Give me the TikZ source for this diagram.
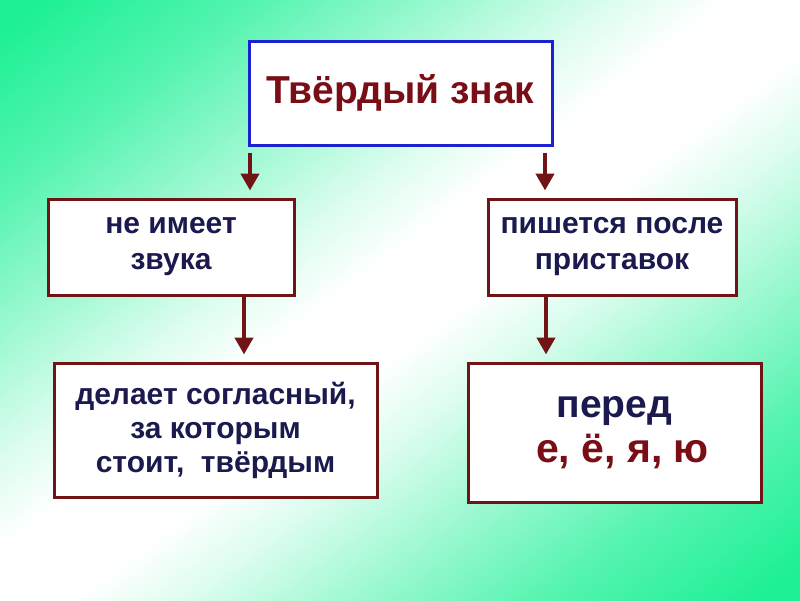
\documentclass[tikz,border=0pt]{standalone}
\usepackage{fontspec}
\setmainfont{Liberation Sans}
\usetikzlibrary{positioning, arrows.meta}

\definecolor{bggreen}{RGB}{30,240,150}
\definecolor{topblue}{RGB}{28,34,205}
\definecolor{boxred}{RGB}{112,20,22}
\definecolor{textnavy}{RGB}{26,26,78}
\definecolor{textred}{RGB}{122,14,22}
\pgfdeclareverticalshading{bgfade}{100bp}{color(0bp)=(bggreen); color(17bp)=(bggreen);
    color(26bp)=(bggreen!76!white); color(35bp)=(bggreen!42!white); color(42bp)=(bggreen!15!white);
    color(47bp)=(white); color(53bp)=(white);
    color(58bp)=(bggreen!15!white); color(65bp)=(bggreen!42!white); color(74bp)=(bggreen!76!white);
    color(83bp)=(bggreen); color(100bp)=(bggreen)}

\begin{document}
\begin{tikzpicture}[x=1pt, y=1pt, on grid,
    box/.style={draw=boxred, line width=3pt, fill=white, align=center, inner sep=0pt,
        text=textnavy, font=\bfseries\fontsize{30}{36}\selectfont},
    arr/.style={draw=boxred, line width=4.5pt, -{Triangle[length=17pt, width=18pt]}}]
    % background
    \fill[shading=bgfade, shading angle=37] (0,0) rectangle (800,-600);
    \node[box, draw=topblue, minimum width=303pt, minimum height=104pt, text=textred,
        font=\bfseries\fontsize{39}{44}\selectfont] (zn) at (400.5,-93) {Твёрдый знак};
    \node[box, minimum width=246pt, minimum height=96pt] (l_1) [below left=154pt and 229.5pt of zn]
        {не имеет\\звука};
    \node[box, minimum width=248pt, minimum height=96pt] (r_1) [below right=154pt and 211.5pt of zn]
        {пишется после\\приставок};
    \node[box, minimum width=323pt, minimum height=134pt, font=\bfseries\fontsize{30}{34}\selectfont]
        (l_2) [below right=183pt and 44.5pt of l_1] {делает согласный,\\за которым\\стоит,\ \ твёрдым};
    \node[box, minimum width=293pt, minimum height=139pt, font=\bfseries\fontsize{39}{45}\selectfont]
        (r_2) [below right=185.5pt and 2.5pt of r_1]
        {перед\\\hspace*{16pt}{\color{textred}\fontsize{41}{45}\selectfont е, ё, я, ю}};
    \path[arr]
    ([xshift=2.5pt, yshift=-6pt]zn.south west) -- ([xshift=79pt, yshift=7pt]l_1.north);
    \path[arr]
    ([xshift=-8.5pt, yshift=-6pt]zn.south east) -- ([xshift=-67pt, yshift=7pt]r_1.north);
    \path[arr]
    ([xshift=73pt]l_1.south) -- ([xshift=28.5pt, yshift=7pt]l_2.north);
    \path[arr]
    ([xshift=-66pt]r_1.south) -- ([xshift=-68.5pt, yshift=7pt]r_2.north);
\end{tikzpicture}
\end{document}
